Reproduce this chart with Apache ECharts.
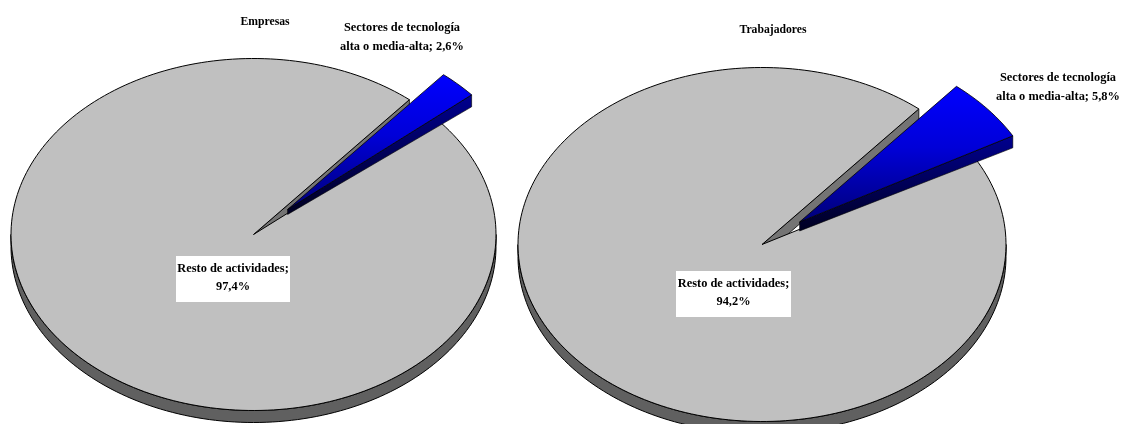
<!DOCTYPE html>
<html>
<head>
<meta charset="utf-8">
<style>html,body{margin:0;padding:0;background:#fff}#c{width:1122px;height:424px}</style>
<script src="https://cdn.jsdelivr.net/npm/echarts@6/dist/echarts.min.js"></script>
</head>
<body>
<div id="c"></div>
<script>
const categories = ['Resto de actividades', 'Sectores de tecnología alta o media-alta'];
const empresasValues = [97.4, 2.6];
const trabajadoresValues = [94.2, 5.8];
const chartTitles = ['Empresas', 'Trabajadores'];

const FONT = 'bold 12.4px "Liberation Serif","Times New Roman",serif';
const TITLE_FONT = 'bold 11.7px "Liberation Serif","Times New Roman",serif';
const START_ANGLE = 40, EXPLODE = 0.2, DEPTH = 12;
const pies = [
  {values: empresasValues, title: chartTitles[0], cx: 253.5, cy: 234.5, rx: 242.5, ry: 176, apexDepth: 5,
   titlePos: [265, 22], boxes: {x: 176, y: 256, w: 114, h: 46}, labelPos: [402, 27.5], restPos: [233, 269]},
  {values: trabajadoresValues, title: chartTitles[1], cx: 762, cy: 244.5, rx: 244, ry: 177, apexDepth: 9,
   titlePos: [773, 30], boxes: {x: 676, y: 271, w: 115, h: 46}, labelPos: [1058, 77.5], restPos: [733.5, 284]}
];
const fmt = v => v.toFixed(1).replace('.', ',') + '%';

function pt(p, deg, ox, oy) {
  const a = deg * Math.PI / 180;
  return [p.cx + (ox || 0) + p.rx * Math.sin(a), p.cy + (oy || 0) - p.ry * Math.cos(a)];
}
function arc(p, from, to, ox, oy) {
  const pts = [], n = Math.max(2, Math.ceil(Math.abs(to - from) / 1.5));
  for (let i = 0; i <= n; i++) pts.push(pt(p, from + (to - from) * i / n, ox, oy));
  return pts;
}
const down = (q, d) => [q[0], q[1] + (d === undefined ? DEPTH : d)];
const LINE = {stroke: '#000', lineWidth: 1};
const poly = (points, style) => ({type: 'polygon', shape: {points}, style: Object.assign({}, LINE, style)});
const vGrad = stops => new echarts.graphic.LinearGradient(0, 0, 0, 1, stops);

function renderPie(p) {
  return function (params, api) {
    const idx = params.dataIndex, v = api.value(0);
    const smallSpan = p.values[1] * 3.6;
    const children = [];
    if (idx === 0) {
      const from = START_ANGLE + smallSpan, to = START_ANGLE + 360;
      const wallTop = arc(p, 90, 270);
      children.push(poly(wallTop.concat(wallTop.slice().reverse().map(q => down(q))), {fill: '#606060'}));
      const apex = [p.cx, p.cy], e1 = pt(p, START_ANGLE);
      children.push(poly([apex, e1, down(e1), down(apex)], {fill: '#747474', lineWidth: 0.8}));
      children.push(poly([apex].concat(arc(p, from, to)), {fill: '#C0C0C0'}));
      const b = p.boxes;
      children.push({type: 'rect', shape: {x: b.x, y: b.y, width: b.w, height: b.h}, style: {fill: '#fff'}});
      children.push({type: 'text', style: {
        text: categories[0] + ';\n' + fmt(v), x: p.restPos[0], y: p.restPos[1] - 9.5, align: 'center',
        verticalAlign: 'top', font: FONT, lineHeight: 18, fill: '#000'}});
      children.push({type: 'text', style: {
        text: p.title, x: p.titlePos[0], y: p.titlePos[1], align: 'center', verticalAlign: 'middle',
        font: TITLE_FONT, fill: '#000'}});
    } else {
      const to = START_ANGLE + smallSpan, mid = START_ANGLE + smallSpan / 2;
      const a = mid * Math.PI / 180;
      const ox = p.rx * EXPLODE * Math.sin(a), oy = -p.ry * EXPLODE * Math.cos(a);
      const apex = [p.cx + ox, p.cy + oy], t2 = pt(p, to, ox, oy);
      children.push(poly([apex, t2, down(t2), down(apex, p.apexDepth)], {
        lineWidth: 0.6,
        fill: vGrad([{offset: 0, color: '#000090'}, {offset: 1, color: '#000020'}])}));
      children.push(poly([apex].concat(arc(p, START_ANGLE, to, ox, oy)), {
        lineWidth: 0.8,
        fill: vGrad([{offset: 0, color: '#0000FF'}, {offset: 0.45, color: '#0000D8'}, {offset: 1, color: '#000078'}])}));
      const words = categories[1].split(' ');
      children.push({type: 'text', style: {
        text: words.slice(0, 3).join(' ') + '\n' + words.slice(3).join(' ') + '; ' + fmt(v),
        x: p.labelPos[0], y: p.labelPos[1] - 9.5, align: 'center', verticalAlign: 'top',
        font: FONT, lineHeight: 19.5, fill: '#000'}});
    }
    return {type: 'group', children};
  };
}

const chart = echarts.init(document.getElementById('c'), null, {renderer: 'canvas'});
chart.setOption({
  animation: false,
  backgroundColor: '#fff',
  series: pies.map(p => ({
    type: 'custom',
    coordinateSystem: 'none',
    silent: true,
    clip: false,
    data: p.values.map((v, i) => ({name: categories[i], value: [v]})),
    renderItem: renderPie(p)
  }))
});
</script>
</body>
</html>
